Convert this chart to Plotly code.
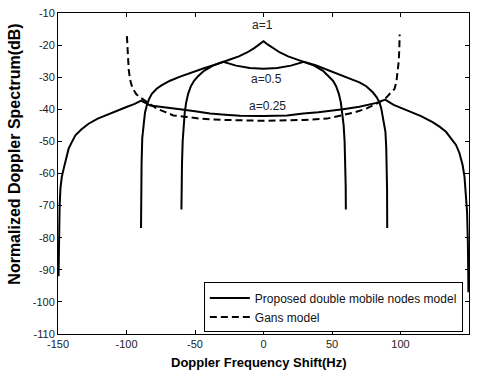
import plotly.graph_objects as go

# ---- data ----
freq_gans = [-99.7, -99.4, -99.0, -98.4, -97.5, -96.3, -94.8, -92.8, -90.0, -86.4, -82.0, -77.9, -72.0,
             -65.8, -56.0, -46.4, -30.0, -17.2, 0.0, 17.2, 30.0, 46.4, 58.0, 66.0, 75.0, 80.0, 84.6,
             88.0, 90.0, 92.5, 95.6, 97.0, 98.0, 98.7, 99.1, 99.4]
db_gans = [-17.2, -21.0, -24.0, -27.5, -30.5, -32.5, -34.0, -35.3, -36.3, -37.3, -38.6, -39.8, -40.8,
           -41.9, -42.4, -42.9, -43.3, -43.4, -43.6, -43.4, -43.3, -42.9, -41.9, -41.0, -39.8, -38.8, -37.8,
           -36.9, -36.2, -35.0, -33.7, -31.5, -28.5, -25.0, -21.5, -16.7]

freq_a025 = [-149.6, -149.3, -148.8, -148.2, -147.2, -145.8, -144.0, -142.2, -140.0, -137.3, -133.0,
             -127.7, -121.0, -115.4, -108.0, -100.0, -94.0, -89.3, -82.7, -70.0, -60.9, -50.0, -39.0,
             -28.0, -17.2, 0.0, 17.2, 29.0, 40.0, 58.0, 70.0, 82.5, 88.8, 95.0, 100.0, 106.5, 115.0,
             123.4, 128.5, 133.2, 137.0, 140.5, 143.0, 145.3, 146.7, 147.7, 148.6, 149.2, 149.6]
db_a025 = [-92.0, -80.0, -70.0, -64.5, -61.0, -58.4, -55.0, -52.2, -50.3, -48.1, -46.3,
           -44.5, -42.9, -41.9, -40.5, -39.3, -38.3, -37.3, -38.8, -39.4, -40.0, -40.6, -41.3,
           -41.7, -42.0, -42.1, -41.9, -41.3, -40.9, -40.0, -39.2, -38.0, -37.0, -38.6, -39.5, -40.6, -42.1,
           -44.0, -45.4, -47.0, -49.0, -51.1, -53.6, -57.3, -61.0, -65.6, -72.0, -82.0, -97.0]

freq_a05 = [-89.4, -89.3, -89.0, -88.5, -87.6, -86.5, -85.2, -83.5, -81.5, -78.0, -74.2, -68.2, -60.9,
            -52.0, -44.0, -36.0, -29.4, -20.0, -10.0, 0.0, 10.0, 20.0, 29.4, 38.0, 50.0, 60.0, 70.0,
            75.0, 79.8, 82.5, 84.6, 86.0, 87.0, 88.2, 89.0, 89.6, 90.0, 90.2, 90.3]
db_a05 = [-77.0, -68.0, -57.0, -49.0, -44.5, -41.0, -38.8, -36.8, -35.2, -33.6, -32.5, -31.1, -29.8,
          -28.4, -27.3, -26.2, -25.2, -26.4, -27.1, -27.4, -27.1, -26.4, -25.2, -26.3, -28.2, -29.8, -31.6,
          -32.8, -34.7, -36.2, -37.8, -39.8, -41.9, -44.5, -47.0, -52.0, -57.3, -65.0, -77.0]

freq_a1 = [-59.9, -59.8, -59.5, -59.0, -58.3, -57.5, -56.5, -55.0, -53.0, -50.7, -48.0, -43.4, -37.0,
           -29.4, -24.0, -18.0, -12.0, -7.0, -3.0, 0.0, 3.0, 7.0, 12.0, 18.0, 24.0, 29.4, 37.0, 43.4,
           48.0, 50.7, 53.0, 55.0, 56.5, 57.5, 58.5, 59.2, 59.7, 60.0, 60.1]
db_a1 = [-71.2, -64.0, -57.0, -50.0, -45.0, -41.0, -38.0, -35.2, -32.8, -31.1, -29.8, -28.0, -26.4,
         -25.1, -24.4, -23.5, -22.3, -21.0, -19.8, -18.8, -19.8, -21.0, -22.3, -23.5, -24.4, -25.1, -26.4, -28.0,
         -29.8, -31.1, -32.8, -35.2, -38.0, -41.0, -45.0, -50.0, -57.0, -64.0, -71.2]

x_ticks = [-150, -100, -50, 0, 50, 100, 150]
y_ticks = [-110, -100, -90, -80, -70, -60, -50, -40, -30, -20, -10]
curve_labels = ["a=1", "a=0.5", "a=0.25"]

FONT = "Liberation Sans, Arial, sans-serif"

fig = go.Figure()
fig.add_trace(go.Scatter(x=freq_a025, y=db_a025, mode="lines", name="Proposed double mobile nodes model",
                         legendgroup="p", line=dict(color="black", width=2)))
fig.add_trace(go.Scatter(x=freq_a05, y=db_a05, mode="lines", showlegend=False, legendgroup="p",
                         line=dict(color="black", width=2)))
fig.add_trace(go.Scatter(x=freq_a1, y=db_a1, mode="lines", showlegend=False, legendgroup="p",
                         line=dict(color="black", width=2)))
fig.add_trace(go.Scatter(x=freq_gans, y=db_gans, mode="lines", name="Gans model",
                         line=dict(color="black", width=2, dash="7px,4px")))

axis_common = dict(showgrid=False, zeroline=False, showline=True, linecolor="black", linewidth=1,
                   mirror="ticks", ticks="inside", ticklen=4, tickcolor="black",
                   tickfont=dict(family=FONT, size=11, color="#222"))
fig.update_xaxes(range=[-150, 150], tickvals=x_ticks, ticktext=[str(v) for v in x_ticks], **axis_common)
fig.update_yaxes(range=[-110, -10], tickvals=y_ticks, ticktext=[str(v) for v in y_ticks], **axis_common)

annotations = [
    dict(x=-0.5, y=-13.6, text=curve_labels[0]),
    dict(x=2.5, y=-30.7, text=curve_labels[1]),
    dict(x=3.0, y=-39.0, text=curve_labels[2]),
]
for a in annotations:
    a.update(xref="x", yref="y", showarrow=False, font=dict(family=FONT, size=12, color="#222"))

annotations.append(dict(x=0.49, y=-0.088, xref="paper", yref="paper", showarrow=False,
                        text="<b>Doppler Frequency Shift(Hz)</b>", xanchor="center", yanchor="middle",
                        font=dict(family=FONT, size=13, color="black")))
annotations.append(dict(x=-0.106, y=0.56, xref="paper", yref="paper", showarrow=False, textangle=-90,
                        text="<b>Normalized Doppler Spectrum(dB)</b>", xanchor="center", yanchor="middle",
                        font=dict(family=FONT, size=16, color="black")))

fig.update_layout(
    width=477, height=374,
    margin=dict(l=58, r=7, t=10, b=40),
    plot_bgcolor="white", paper_bgcolor="white",
    font=dict(family=FONT, size=12, color="black"),
    annotations=annotations,
    legend=dict(x=0.985, y=0.005, xanchor="right", yanchor="bottom", bgcolor="white",
                bordercolor="black", borderwidth=1, font=dict(family=FONT, size=12, color="#111"),
                tracegroupgap=0, itemwidth=40),
    showlegend=True,
)

fig.write_html("out.html", config={"displayModeBar": False},
               post_script="document.body.style.margin='0';document.body.style.padding='0';")
